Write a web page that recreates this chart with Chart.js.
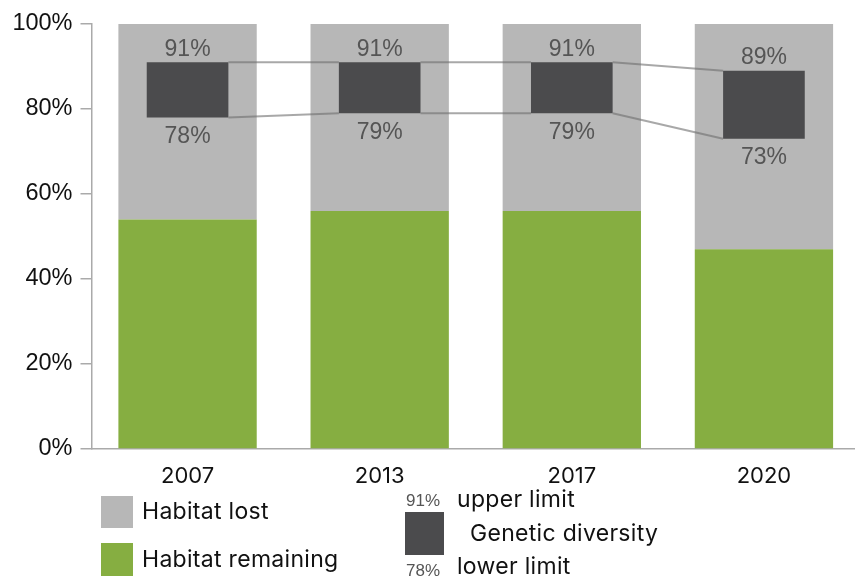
<!DOCTYPE html>
<html>
<head>
<meta charset="utf-8">
<script src="https://cdn.jsdelivr.net/npm/chart.js@4"></script>
<style>
  body { margin: 0; overflow: hidden; background: #fff; }
  #wrap { position: relative; width: 855px; height: 576px; overflow: hidden; }
  #chart { position: absolute; left: 0; top: 0; }
  .sw { position: absolute; }
  .lg { position: absolute; white-space: nowrap; font-family: Inter, "Open Sans", sans-serif; font-size: 23px; line-height: 23px; letter-spacing: 0.3px; color: #111; }
  .sm { position: absolute; white-space: nowrap; font-family: "Liberation Sans", Arial, sans-serif; font-size: 17px; line-height: 17px; color: #555; }
</style>
</head>
<body>
<div id="wrap">
  <canvas id="chart" width="862" height="576"></canvas>

  <div class="sw" style="left:101px;top:496px;width:32px;height:32px;background:#b7b7b7"></div>
  <div class="lg" style="left:142px;top:500px">Habitat lost</div>
  <div class="sw" style="left:101px;top:543px;width:32px;height:33px;background:#86ae41"></div>
  <div class="lg" style="left:142px;top:548px">Habitat remaining</div>

  <div class="sm" style="left:406px;top:492px">91%</div>
  <div class="lg" style="left:457px;top:488px">upper limit</div>
  <div class="sw" style="left:405px;top:512px;width:39px;height:43px;background:#4b4b4d"></div>
  <div class="lg" style="left:470px;top:522px">Genetic diversity</div>
  <div class="sm" style="left:406px;top:562px">78%</div>
  <div class="lg" style="left:457px;top:555px">lower limit</div>
</div>
<script>
'use strict';

// data
const years = ['2007', '2013', '2017', '2020'];
const habitatRemaining = [54, 56, 56, 47];
const habitatLost = [46, 44, 44, 53];
const geneticUpper = [91, 91, 91, 89];
const geneticLower = [78, 79, 79, 73];
const yTicks = [0, 20, 40, 60, 80, 100];

const GRAY = '#b7b7b7';
const GREEN = '#86ae41';
const DARK = '#4b4b4d';

// lines between the boxes + the % labels above / below them
const geneticPlugin = {
    id: 'genetic',
    afterDatasetsDraw(chart) {
        const ctx = chart.ctx;
        const y = chart.scales.y;
        const boxes = chart.getDatasetMeta(2).data;
        ctx.save();
        ctx.strokeStyle = 'rgba(110,110,110,0.6)';
        ctx.lineWidth = 2;
        for (let i = 0; i < boxes.length - 1; i++) {
            const a = boxes[i], b = boxes[i + 1];
            [geneticUpper, geneticLower].forEach(arr => {
                ctx.beginPath();
                ctx.moveTo(a.x + a.width / 2, y.getPixelForValue(arr[i]));
                ctx.lineTo(b.x - b.width / 2, y.getPixelForValue(arr[i + 1]));
                ctx.stroke();
            });
        }
        ctx.fillStyle = '#555';
        ctx.font = '23px "Liberation Sans", Arial, sans-serif';
        ctx.textAlign = 'center';
        ctx.textBaseline = 'alphabetic';
        boxes.forEach((bx, i) => {
            ctx.fillText(geneticUpper[i] + '%', bx.x, y.getPixelForValue(geneticUpper[i]) - 6.5);
            ctx.fillText(geneticLower[i] + '%', bx.x, y.getPixelForValue(geneticLower[i]) + 25.5);
        });
        ctx.restore();
    }
};

new Chart(document.getElementById('chart'), {
    type: 'bar',
    data: {
        labels: years,
        datasets: [
            {
                label: 'Habitat lost',
                data: habitatRemaining.map((v, i) => [v, v + habitatLost[i]]),
                backgroundColor: GRAY,
                barPercentage: 0.72,
                categoryPercentage: 1,
                grouped: false,
                order: 2
            },
            {
                label: 'Habitat remaining',
                data: habitatRemaining,
                backgroundColor: GREEN,
                barPercentage: 0.72,
                categoryPercentage: 1,
                grouped: false,
                order: 1
            },
            {
                label: 'Genetic diversity',
                data: geneticLower.map((v, i) => [v, geneticUpper[i]]),
                backgroundColor: DARK,
                barPercentage: 0.425,
                categoryPercentage: 1,
                grouped: false,
                order: 0
            }
        ]
    },
    options: {
        responsive: false,
        animation: false,
        devicePixelRatio: 1,
        layout: { padding: { top: 24, right: 2, left: 0, bottom: 0 } },
        plugins: {
            legend: { display: false },
            tooltip: { enabled: false }
        },
        scales: {
            x: {
                grid: { display: false },
                border: { display: true, color: '#aaa', width: 1.5 },
                ticks: {
                    color: '#111',
                    padding: 6,
                    font: { family: 'Inter, "Open Sans", sans-serif', size: 22 }
                },
                afterFit(scale) { scale.height = 127; }
            },
            y: {
                min: 0,
                max: 100,
                afterBuildTicks(scale) { scale.ticks = yTicks.map(v => ({ value: v })); },
                grid: { drawOnChartArea: false, drawTicks: true, tickLength: 11, color: '#aaa', lineWidth: 1.5 },
                border: { display: true, color: '#aaa', width: 1.5 },
                ticks: {
                    color: '#111',
                    padding: 8,
                    font: { family: '"Liberation Sans", Arial, sans-serif', size: 23.5 },
                    callback: v => v + '%'
                },
                afterFit(scale) { scale.width = 91.5; }
            }
        }
    },
    plugins: [geneticPlugin]
});
</script>
</body>
</html>
